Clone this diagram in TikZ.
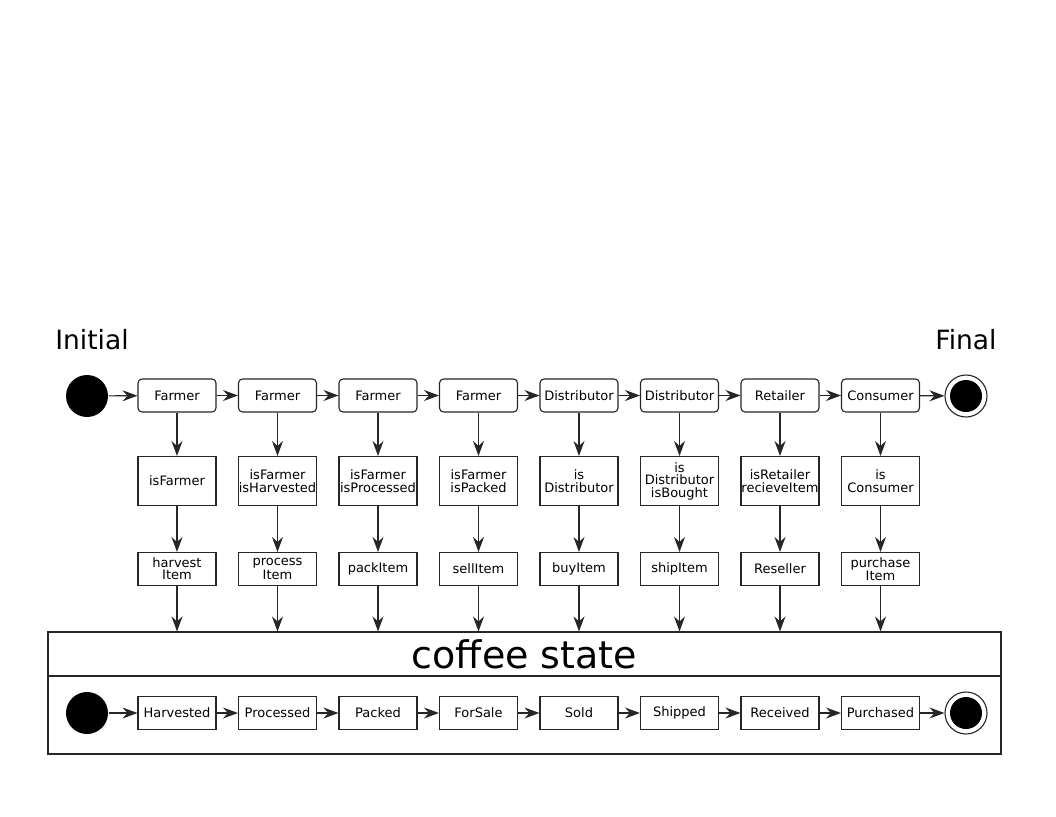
\documentclass[tikz,border=0pt]{standalone}
\usepackage{fontspec}
\setmainfont{DejaVu Sans}
\usetikzlibrary{arrows.meta,positioning}
\begin{document}
\begin{tikzpicture}[x=1pt,y=-1pt,
  line width=1.1pt,
  every node/.style={text=black},
  flow/.style={draw=black!85, line width=1.2pt, -{Stealth[length=15pt,width=11pt,inset=5pt]}},
  actbox/.style={draw=black!85, rounded corners=4pt, minimum width=78pt, minimum height=33pt, inner sep=0pt, font=\fontsize{13}{12.5}\selectfont},
  condbox/.style={draw=black!85, minimum width=78pt, minimum height=49pt, inner sep=0pt, align=center, font=\fontsize{13}{12.5}\selectfont},
  opbox/.style={draw=black!85, minimum width=78pt, minimum height=33pt, inner sep=0pt, align=center, font=\fontsize{13}{12}\selectfont},
  stbox/.style={draw=black!85, minimum width=78pt, minimum height=33pt, inner sep=0pt, font=\fontsize{13}{12.5}\selectfont},
  startdot/.style={circle, fill=black, minimum size=42pt, inner sep=0pt},
  enddot/.style={circle, draw=black!85, line width=1.1pt, minimum size=42pt, inner sep=0pt, path picture={\fill[black] (path picture bounding box.center) circle (16pt);}},
  lbl/.style={font=\fontsize{26.5}{30}\selectfont}
]
\useasboundingbox (0,0) rectangle (1056,816);
\fill[white] (0,0) rectangle (1056,816);

\node[lbl] (tinit) at (92,340) {Initial};
\node[lbl] (tfinal) at (966,340) {Final};

% top row
\node[startdot] (init) at (87,396) {};
\node[enddot] (final) at (966,396) {};
\def\ya{395.5}
\def\yb{481}
\def\yc{569}
\def\yd{713}
\node[actbox] (a1) at (177,\ya) {Farmer};
\node[actbox] (a2) at (277.5,\ya) {Farmer};
\node[actbox] (a3) at (378,\ya) {Farmer};
\node[actbox] (a4) at (478.5,\ya) {Farmer};
\node[actbox] (a5) at (579,\ya) {Distributor};
\node[actbox] (a6) at (679.5,\ya) {Distributor};
\node[actbox] (a7) at (780,\ya) {Retailer};
\node[actbox] (a8) at (880.5,\ya) {Consumer};

\node[condbox] (c1) at (177,\yb) {isFarmer};
\node[condbox] (c2) at (277.5,\yb) {isFarmer\\isHarvested};
\node[condbox] (c3) at (378,\yb) {isFarmer\\isProcessed};
\node[condbox] (c4) at (478.5,\yb) {isFarmer\\isPacked};
\node[condbox] (c5) at (579,\yb) {is\\Distributor};
\node[condbox] (c6) at (679.5,\yb) {is\\Distributor\\isBought};
\node[condbox] (c7) at (780,\yb) {isRetailer\\recieveItem};
\node[condbox] (c8) at (880.5,\yb) {is\\Consumer};

\node[opbox] (o1) at (177,\yc) {harvest\\Item};
\node[opbox] (o2) at (277.5,\yc) {process\\Item};
\node[opbox] (o3) at (378,\yc) {packItem};
\node[opbox] (o4) at (478.5,\yc) {sellItem};
\node[opbox] (o5) at (579,\yc) {buyItem};
\node[opbox] (o6) at (679.5,\yc) {shipItem};
\node[opbox] (o7) at (780,\yc) {Reseller};
\node[opbox] (o8) at (880.5,\yc) {purchase\\Item};

% coffee state container
\node[draw=black!85, minimum width=953pt, minimum height=44pt, inner sep=0pt,
      font=\fontsize{38}{40}\selectfont] (csh) at (524.5,654) {coffee state};
\node[draw=black!85, minimum width=953pt, minimum height=78pt, inner sep=0pt] (csb) at (524.5,715) {};

\node[startdot] (sinit) at (87,\yd) {};
\node[enddot] (sfinal) at (966,\yd) {};
\node[stbox] (s1) at (177,\yd) {Harvested};
\node[stbox] (s2) at (277.5,\yd) {Processed};
\node[stbox] (s3) at (378,\yd) {Packed};
\node[stbox] (s4) at (478.5,\yd) {ForSale};
\node[stbox] (s5) at (579,\yd) {Sold};
\node[stbox] (s6) at (679.5,\yd) {Shipped};
\node[stbox] (s7) at (780,\yd) {Received};
\node[stbox] (s8) at (880.5,\yd) {Purchased};

% horizontal flows
\draw[flow] (init) -- (a1);
\foreach \i/\j in {1/2,2/3,3/4,4/5,5/6,6/7,7/8} {
  \draw[flow] (a\i) -- (a\j);
  \draw[flow] (s\i) -- (s\j);
}
\draw[flow] (a8) -- (final);
\draw[flow] (sinit) -- (s1);
\draw[flow] (s8) -- (sfinal);

% vertical flows
\foreach \i in {1,...,8} {
  \draw[flow] (a\i) -- (c\i);
  \draw[flow] (c\i) -- (o\i);
  \draw[flow] (o\i) -- (o\i |- csh.north);
}
\end{tikzpicture}
\end{document}
